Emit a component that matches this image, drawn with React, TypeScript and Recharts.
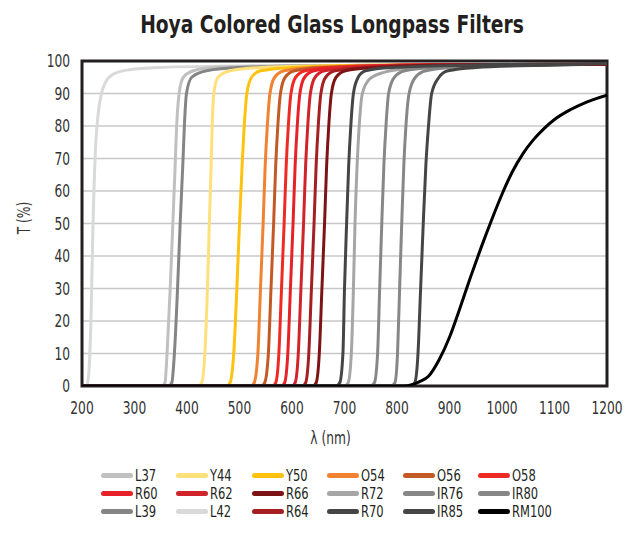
import React from 'react';
import { LineChart, Line, XAxis, YAxis, CartesianGrid, ReferenceArea, Label } from 'recharts';

const FONT = '"DejaVu Sans Condensed", "Liberation Sans Narrow", sans-serif';
const INK = '#231f20';
const SQUEEZE = 0.8;

const xTicks = [200, 300, 400, 500, 600, 700, 800, 900, 1000, 1100, 1200];
const yTicks = [0, 10, 20, 30, 40, 50, 60, 70, 80, 90, 100];

// [wavelength nm, transmission %]
const L42 = [[200, 0], [209, 0], [213, 4], [217, 20], [221, 50], [226, 74], [231, 84], [237, 90], [245, 93.5], [260, 96], [290, 97.3], [350, 98], [500, 98.5], [1200, 99]];
const L37 = [[200, 0], [352, 0], [358, 1], [362, 10], [368, 30], [373, 50], [377, 66], [380, 79], [385, 90], [393, 95], [412, 97], [450, 98], [600, 98.5], [1200, 99]];
const L39 = [[200, 0], [365, 0], [371, 1], [376, 10], [382, 30], [387, 50], [392, 68], [395, 80], [399, 90], [409, 95], [437, 97], [500, 98], [700, 98.6], [1200, 99]];
const Y44 = [[200, 0], [422, 0], [428, 1], [434, 10], [439, 30], [442.5, 50], [446, 68], [448, 80], [451, 90], [459, 95], [482, 97], [540, 98], [700, 98.6], [1200, 99]];
const Y50 = [[200, 0], [476, 0], [482, 1], [489, 10], [495, 30], [500, 50], [505, 68], [509, 80], [514, 90], [523, 95], [540, 97], [600, 98], [750, 98.7], [1200, 99]];
const O54 = [[200, 0], [522, 0], [528, 1], [535, 10], [540, 30], [545, 50], [549, 68], [553, 80], [558, 90], [567, 95], [585, 97], [640, 98], [800, 98.7], [1200, 99]];
const O56 = [[200, 0], [542, 0], [548, 1], [555, 10], [560, 30], [565, 50], [569, 68], [573, 80], [578, 90], [587, 95], [605, 97], [660, 98], [800, 98.7], [1200, 99]];
const O58 = [[200, 0], [563, 0], [569, 1], [575, 10], [580, 30], [585, 50], [589, 68], [593, 80], [598, 90], [607, 95], [625, 97], [680, 98], [850, 98.8], [1200, 99]];
const R60 = [[200, 0], [580, 0], [586, 1], [592, 10], [597, 30], [602, 50], [606, 68], [610, 80], [615, 90], [624, 95], [642, 97], [700, 98], [850, 98.8], [1200, 99]];
const R62 = [[200, 0], [600, 0], [606, 1], [612, 10], [617, 30], [622, 50], [626, 68], [630, 80], [635, 90], [644, 95], [662, 97], [720, 98], [850, 98.8], [1200, 99]];
const R64 = [[200, 0], [620, 0], [626, 1], [632, 10], [637, 30], [642, 50], [646, 68], [650, 80], [655, 90], [664, 95], [682, 97], [740, 98], [900, 98.8], [1200, 99]];
const R66 = [[200, 0], [640, 0], [646, 1], [652, 10], [657, 30], [662, 50], [666, 68], [670, 80], [675, 90], [684, 95], [702, 97], [760, 98], [900, 98.8], [1200, 99]];
const R70 = [[200, 0], [684, 0], [691, 1], [697, 10], [700, 30], [704, 50], [708, 68], [712, 80], [717, 90], [726, 95], [740, 97], [790, 98], [950, 98.8], [1200, 99.2]];
const R72 = [[200, 0], [700, 0], [707, 1], [713, 10], [717, 30], [720, 50], [724, 68], [728, 80], [734, 90], [748, 94.5], [775, 96.5], [830, 97.8], [950, 98.6], [1200, 99]];
const IR76 = [[200, 0], [750, 0], [757, 1], [763, 10], [767, 30], [771, 50], [775, 68], [779, 80], [784, 90], [795, 95], [815, 97], [870, 98], [1000, 98.7], [1200, 99]];
const IR80 = [[200, 0], [789, 0], [796, 1], [801, 10], [805, 30], [809, 50], [813, 68], [817, 80], [823, 90], [835, 95], [855, 97], [910, 98], [1050, 98.7], [1200, 99]];
const IR85 = [[200, 0], [828, 0], [834, 1], [840, 10], [845, 30], [850, 50], [855, 68], [860, 80], [866, 90], [880, 95], [897, 97], [950, 98], [1100, 98.8], [1200, 99.2]];
const RM100 = [[200, 0], [815, 0], [828, 0.4], [842, 1.3], [860, 3], [880, 8], [900, 15], [920, 24], [940, 33.5], [960, 42.5], [980, 51], [1000, 59], [1020, 66], [1040, 71.5], [1060, 75.8], [1080, 79.2], [1100, 82], [1130, 85], [1160, 87.3], [1200, 89.5]];

// drawing order (light first, darkest last)
const filters = [
  { name: 'L42', color: '#d9d9d9', points: L42 },
  { name: 'L37', color: '#c0c0c0', points: L37 },
  { name: 'R72', color: '#a6a6a6', points: R72 },
  { name: 'L39', color: '#858585', points: L39 },
  { name: 'IR76', color: '#878787', points: IR76 },
  { name: 'IR80', color: '#878787', points: IR80 },
  { name: 'Y44', color: '#ffe07a', points: Y44 },
  { name: 'Y50', color: '#ffc20e', points: Y50 },
  { name: 'O54', color: '#f08232', points: O54 },
  { name: 'O56', color: '#c35a26', points: O56 },
  { name: 'O58', color: '#ee2a24', points: O58 },
  { name: 'R60', color: '#e62128', points: R60 },
  { name: 'R62', color: '#d1232a', points: R62 },
  { name: 'R64', color: '#a41e22', points: R64 },
  { name: 'R66', color: '#7d1315', points: R66 },
  { name: 'R70', color: '#454545', points: R70 },
  { name: 'IR85', color: '#454545', points: IR85 },
  { name: 'RM100', color: '#000000', points: RM100 },
];

const legendRows = [
  ['L37', 'Y44', 'Y50', 'O54', 'O56', 'O58'],
  ['R60', 'R62', 'R66', 'R72', 'IR76', 'IR80'],
  ['L39', 'L42', 'R64', 'R70', 'IR85', 'RM100'],
];

const colorOf = (n: string) => (filters.find((f) => f.name === n) || { color: '#000' }).color;

const XTick = (p: any) => (
  <text
    x={0} y={0} dy="0.71em" transform={`translate(${p.x},${p.y}) scale(${SQUEEZE},1)`}
    textAnchor="middle" fontSize={17} fill="#333" fontFamily={FONT}
  >
    {p.payload.value}
  </text>
);

const YTick = (p: any) => (
  <text
    x={0} y={0} dy="0.355em" transform={`translate(${p.x},${p.y}) scale(${SQUEEZE},1)`}
    textAnchor="end" fontSize={17} fill="#333" fontFamily={FONT}
  >
    {p.payload.value}
  </text>
);

export default function App() {
  return (
    <div style={{ position: 'absolute', left: 0, top: 0, width: 626, height: 537, background: '#fff', fontFamily: FONT }}>
      <div
        style={{
          position: 'absolute', left: 332, top: 12, transform: 'translateX(-50%) scaleX(0.83)', whiteSpace: 'nowrap',
          fontSize: 25, lineHeight: '26px', fontWeight: 700, color: INK, fontFamily: FONT,
        }}
      >
        Hoya Colored Glass Longpass Filters
      </div>
      <LineChart width={626} height={537} margin={{ top: 61, right: 19, bottom: 91, left: 0 }}>
        <CartesianGrid vertical={false} stroke="#c8c8c8" strokeWidth={1.3} />
        <XAxis
          dataKey="x" type="number" domain={[200, 1200]} ticks={xTicks} allowDataOverflow
          tickLine={false} axisLine={false} tick={XTick} tickMargin={10} height={60}
        >
          <Label
            content={(p: any) => {
              const vb = p.viewBox || { x: 0, y: 0, width: 0, height: 0 };
              return (
                <text
                  x={0} y={0} transform={`translate(${vb.x + vb.width / 2 - 14},${vb.y + 58}) scale(${SQUEEZE},1)`}
                  textAnchor="middle" fontSize={17} fill="#333" fontFamily={FONT}
                >
                  λ (nm)
                </text>
              );
            }}
          />
        </XAxis>
        <YAxis
          type="number" domain={[0, 100]} ticks={yTicks} allowDataOverflow
          tickLine={false} axisLine={false} tick={YTick} tickMargin={6} width={82}
        >
          <Label
            content={() => (
              <text x={0} y={0} transform={`translate(30,218) rotate(-90) scale(${SQUEEZE},1)`} textAnchor="middle" fontSize={17} fill="#333" fontFamily={FONT}>
                T (%)
              </text>
            )}
          />
        </YAxis>
        {filters.map((f) => (
          <Line
            key={f.name}
            name={f.name}
            data={f.points.map(([x, t]) => ({ x, t }))}
            dataKey="t"
            type="monotone"
            stroke={f.color}
            strokeWidth={3}
            dot={false}
            activeDot={false}
            isAnimationActive={false}
          />
        ))}
        <ReferenceArea x1={200} x2={1200} y1={0} y2={100} fill="none" stroke={INK} strokeWidth={3} ifOverflow="visible" />
      </LineChart>
      {legendRows.map((row, ri) =>
        row.map((n, ci) => (
          <div
            key={n}
            style={{
              position: 'absolute', left: 101 + ci * 75.4, top: 466 + ri * 18, height: 18,
              display: 'flex', alignItems: 'center', whiteSpace: 'nowrap',
            }}
          >
            <span style={{ display: 'inline-block', width: 32, height: 5, borderRadius: 3, background: colorOf(n) }} />
            <span
              style={{
                display: 'inline-block', marginLeft: 2, fontSize: 16, color: INK, fontFamily: FONT,
                transform: `scaleX(${SQUEEZE})`, transformOrigin: 'left center',
              }}
            >
              {n}
            </span>
          </div>
        ))
      )}
    </div>
  );
}
